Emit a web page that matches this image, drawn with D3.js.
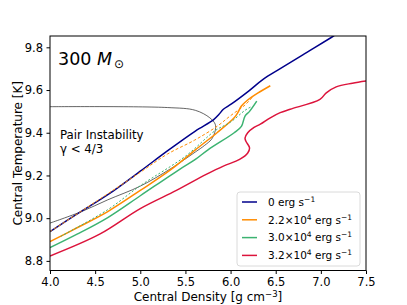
<!DOCTYPE html>
<html>
<head>
<meta charset="utf-8">
<script src="https://cdn.jsdelivr.net/npm/d3@7"></script>
<style>
  body { margin: 0; background: #fff; }
  text { font-family: "DejaVu Sans", sans-serif; fill: #000; }
</style>
</head>
<body>
<div id="main"></div>
<script>
// central density (log g cm^-3) vs central temperature (log K)
const blueTrack = [
  [4.0, 8.937], [4.35, 9.033], [4.64, 9.11], [5.0, 9.22], [5.3, 9.315], [5.61, 9.408],
  [5.81, 9.46], [5.87, 9.485], [5.92, 9.51], [6.01, 9.535], [6.2, 9.595], [6.36, 9.65],
  [6.55, 9.70], [6.8, 9.765], [7.14, 9.853], [7.2, 9.87]
];
const orangeTrack = [
  [4.0, 8.89], [4.3, 8.955], [4.64, 9.031], [5.0, 9.13], [5.33, 9.225], [5.61, 9.32],
  [5.85, 9.40], [6.04, 9.47], [6.08, 9.494], [6.12, 9.525], [6.18, 9.55], [6.3, 9.585], [6.44, 9.62]
];
const orangeDashed = [
  [4.0, 8.937], [4.5, 9.075], [5.0, 9.215], [5.3, 9.30], [5.6, 9.365], [5.85, 9.43],
  [6.0, 9.48], [6.16, 9.53], [6.24, 9.565]
];
const greenTrack = [
  [4.0, 8.862], [4.3, 8.925], [4.64, 9.003], [5.0, 9.105], [5.44, 9.23], [5.61, 9.275],
  [5.75, 9.32], [6.04, 9.40], [6.12, 9.43], [6.16, 9.478], [6.21, 9.50], [6.29, 9.548]
];
const greenDashed = [
  [4.12, 8.915], [4.64, 9.04], [5.0, 9.152], [5.5, 9.29], [5.83, 9.41], [6.0, 9.45],
  [6.16, 9.505], [6.22, 9.52]
];
const redTrack = [
  [4.0, 8.823], [4.55, 8.925], [5.0, 9.045], [5.4, 9.13], [5.73, 9.205], [5.92, 9.244],
  [6.10, 9.275], [6.19, 9.305], [6.21, 9.33], [6.17, 9.36], [6.16, 9.375], [6.19, 9.40],
  [6.26, 9.425], [6.33, 9.44], [6.44, 9.47], [6.55, 9.494], [6.66, 9.51], [6.99, 9.556],
  [7.06, 9.587], [7.17, 9.615], [7.35, 9.632], [7.5, 9.642]
];
// pair instability region boundary
const pairBoundary = [
  [4.0, 8.977], [4.35, 9.031], [4.64, 9.086], [5.0, 9.15], [5.33, 9.23], [5.61, 9.31],
  [5.71, 9.34], [5.79, 9.37], [5.83, 9.41], [5.83, 9.44], [5.77, 9.47], [5.61, 9.505],
  [5.3, 9.518], [4.0, 9.522]
];

const xTicks = [4.0, 4.5, 5.0, 5.5, 6.0, 6.5, 7.0, 7.5];
const yTicks = [8.8, 9.0, 9.2, 9.4, 9.6, 9.8];

const legendLabels = [
  {color: "darkblue", main: "0 erg s", exp: null},
  {color: "darkorange", main: "2.2×10", exp: "4"},
  {color: "mediumseagreen", main: "3.0×10", exp: "4"},
  {color: "crimson", main: "3.2×10", exp: "4"}
];

const config = {width: 316, height: 234.5, top: 36, left: 50};

const svg = d3.select("#main").append("svg")
  .attr("width", 407)
  .attr("height", 305);

const g = svg.append("g")
  .attr("transform", `translate(${config.left},${config.top})`);

const xScale = d3.scaleLinear().domain([4.0, 7.5]).range([0, config.width]);
const yScale = d3.scaleLinear().domain([8.755, 9.853]).range([config.height, 0]);

g.append("clipPath").attr("id", "clip")
  .append("rect").attr("width", config.width).attr("height", config.height);

const line = d3.line()
  .x(d => xScale(d[0]))
  .y(d => yScale(d[1]))
  .curve(d3.curveCatmullRom.alpha(0.5));

const plot = g.append("g").attr("clip-path", "url(#clip)");

function drawTrack(data, color, width, dash) {
  plot.append("path")
    .datum(data)
    .attr("d", line)
    .attr("fill", "none")
    .attr("stroke", color)
    .attr("stroke-width", width)
    .attr("stroke-dasharray", dash);
}

drawTrack(pairBoundary, "#222", 0.7, null);
drawTrack(blueTrack, "darkblue", 1.5, null);
drawTrack(orangeTrack, "darkorange", 1.5, null);
drawTrack(orangeDashed, "darkorange", 1, "3,2");
drawTrack(greenTrack, "mediumseagreen", 1.5, null);
drawTrack(greenDashed, "mediumseagreen", 1, "2,2");
drawTrack(redTrack, "crimson", 1.5, null);

// axes
const xAxis = d3.axisBottom(xScale).tickValues(xTicks).tickFormat(d3.format(".1f"))
  .tickSize(3.5).tickPadding(3.5);
const yAxis = d3.axisLeft(yScale).tickValues(yTicks).tickFormat(d3.format(".1f"))
  .tickSize(3.5).tickPadding(3.5);

g.append("g")
  .attr("transform", `translate(0,${config.height})`)
  .call(xAxis)
  .call(a => a.select(".domain").remove())
  .selectAll("text").style("font-size", "11.5px").attr("font-family", "DejaVu Sans");

g.append("g")
  .call(yAxis)
  .call(a => a.select(".domain").remove())
  .selectAll("text").style("font-size", "11.5px").attr("font-family", "DejaVu Sans");

g.append("rect")
  .attr("width", config.width)
  .attr("height", config.height)
  .attr("fill", "none")
  .attr("stroke", "#000")
  .attr("stroke-width", 1);

// axis titles
const xTitle = svg.append("text")
  .attr("x", config.left + config.width / 2)
  .attr("y", 301)
  .attr("text-anchor", "middle")
  .style("font-size", "12px");
xTitle.append("tspan").text("Central Density [g cm");
xTitle.append("tspan").attr("dy", -4.5).style("font-size", "8.5px").text("−3");
xTitle.append("tspan").attr("dy", 4.5).text("]");

svg.append("text")
  .attr("transform", `translate(21.5,${config.top + config.height / 2}) rotate(-90)`)
  .attr("text-anchor", "middle")
  .style("font-size", "12px")
  .text("Central Temperature [K]");

// annotations
const massLabel = svg.append("text")
  .attr("x", 58)
  .attr("y", 65)
  .style("font-size", "17.5px");
massLabel.append("tspan").text("300 ");
massLabel.append("tspan").style("font-style", "italic").text("M");
massLabel.append("tspan").attr("dy", 3).attr("dx", 2).style("font-size", "12px").text("⊙");

svg.append("text")
  .attr("x", 60)
  .attr("y", 138.5)
  .style("font-size", "11.8px")
  .text("Pair Instability");

svg.append("text")
  .attr("x", 60)
  .attr("y", 153)
  .style("font-size", "11.8px")
  .text("γ < 4/3");

// legend
const legend = svg.append("g").attr("transform", "translate(237,192)");
legend.append("rect")
  .attr("width", 123)
  .attr("height", 74)
  .attr("rx", 3)
  .attr("fill", "#fff")
  .attr("fill-opacity", 0.8)
  .attr("stroke", "#d0d0d0")
  .attr("stroke-width", 0.8);

legendLabels.forEach((d, i) => {
  const y = 10 + i * 17.8;
  legend.append("line")
    .attr("x1", 5).attr("x2", 20)
    .attr("y1", y).attr("y2", y)
    .attr("stroke", d.color)
    .attr("stroke-width", 1.5);
  const t = legend.append("text")
    .attr("x", 31)
    .attr("y", y + 3.7)
    .style("font-size", "10.5px");
  if (d.exp) {
    t.append("tspan").text(d.main);
    t.append("tspan").attr("dy", -4).style("font-size", "7.5px").text(d.exp);
    t.append("tspan").attr("dy", 4).text(" erg s");
  } else {
    t.append("tspan").text(d.main);
  }
  t.append("tspan").attr("dy", -4).style("font-size", "7.5px").text("−1");
});
</script>
</body>
</html>
